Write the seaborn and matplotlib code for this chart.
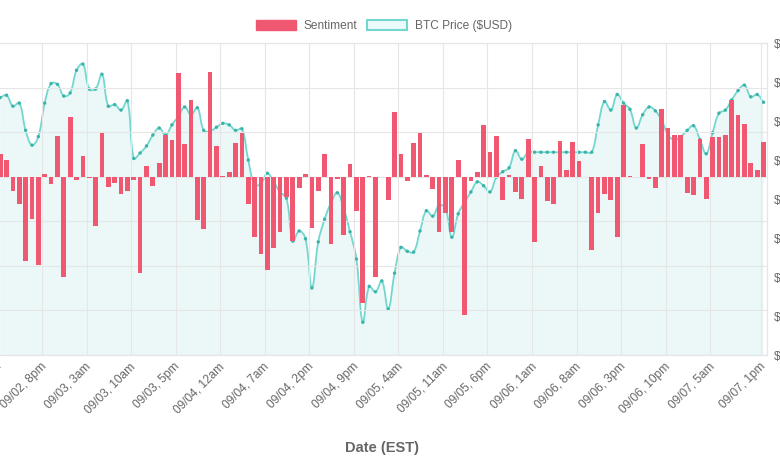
import numpy as np
import pandas as pd
import matplotlib
matplotlib.use("Agg")
import matplotlib.pyplot as plt
import seaborn as sns
from matplotlib.path import Path
from matplotlib.patches import PathPatch, Patch

# hourly data, hour 0 = 09/02 1pm EST
hours = list(range(121))

sentiment = [
    0.052, 0.038, -0.033, -0.061, -0.188, -0.095, -0.198, 0.007, -0.016, 0.092,
    -0.224, 0.135, -0.008, 0.046, -0.003, -0.110, 0.097, -0.022, -0.014, -0.038,
    -0.031, -0.008, -0.215, 0.023, -0.020, 0.031, 0.094, 0.082, 0.233, 0.073,
    0.173, -0.097, -0.118, 0.234, 0.070, 0.001, 0.011, 0.076, 0.097, -0.061,
    -0.136, -0.174, -0.210, -0.159, -0.125, -0.046, -0.144, -0.026, 0.007, -0.114,
    -0.031, 0.052, -0.151, -0.005, -0.130, 0.029, -0.076, -0.284, 0.001, -0.224,
    0.000, -0.053, 0.145, 0.052, -0.010, 0.076, 0.097, 0.004, -0.028, -0.123,
    -0.082, -0.125, 0.037, -0.311, -0.010, 0.011, 0.115, 0.056, 0.091, -0.053,
    0.004, -0.035, -0.051, 0.085, -0.147, 0.023, -0.055, -0.061, 0.081, 0.014,
    0.079, 0.036, 0.000, -0.164, -0.082, -0.038, -0.053, -0.136, 0.161, 0.002,
    0.000, 0.074, -0.005, -0.026, 0.153, 0.110, 0.094, 0.093, -0.037, -0.040,
    0.084, -0.051, 0.088, 0.088, 0.094, 0.172, 0.139, 0.119, 0.031, 0.016,
    0.079,
]

btc_price = [
    10530, 10533, 10519, 10523, 10488, 10469, 10480, 10523, 10548, 10547,
    10532, 10536, 10565, 10573, 10541, 10541, 10560, 10519, 10521, 10514,
    10526, 10452, 10459, 10468, 10482, 10491, 10482, 10495, 10506, 10518,
    10508, 10517, 10488, 10487, 10492, 10497, 10495, 10488, 10490, 10450,
    10418, 10420, 10433, 10422, 10409, 10401, 10346, 10359, 10349, 10286,
    10345, 10374, 10395, 10408, 10388, 10358, 10323, 10242, 10288, 10281,
    10295, 10259, 10305, 10338, 10333, 10332, 10359, 10385, 10378, 10392,
    10388, 10351, 10381, 10396, 10409, 10422, 10417, 10409, 10428, 10435,
    10440, 10462, 10451, 10460, 10460, 10460, 10460, 10460, 10460, 10460,
    10460, 10460, 10460, 10460, 10495, 10525, 10514, 10534, 10523, 10515,
    10491, 10508, 10518, 10513, 10501, 10482, 10476, 10480, 10488, 10494,
    10476, 10458, 10485, 10510, 10514, 10527, 10539, 10546, 10531, 10534,
    10524,
]

tick_hours = [0, 7, 14, 21, 28, 35, 42, 49, 56, 63, 70, 77, 84, 91, 98, 105, 112, 120]
tick_labels = ["09/02, 1pm", "09/02, 8pm", "09/03, 3am", "09/03, 10am", "09/03, 5pm",
               "09/04, 12am", "09/04, 7am", "09/04, 2pm", "09/04, 9pm", "09/05, 4am",
               "09/05, 11am", "09/05, 6pm", "09/06, 1am", "09/06, 8am", "09/06, 3pm",
               "09/06, 10pm", "09/07, 5am", "09/07, 1pm"]
price_ticks = [10200, 10250, 10300, 10350, 10400, 10450, 10500, 10550, 10600]

BAR = "#f05872"
LINE = "#74d7cf"
DOT = "#3ab4aa"
FILL = (75 / 255, 192 / 255, 192 / 255, 0.1)
GRID = "#e6e6e6"
TXT = "#666666"


def chartjs_curve(ax, xs, ys, tension=0.4):
    # bezier control points the way Chart.js builds them (in pixel space)
    pts = ax.transData.transform(np.column_stack([xs, ys]))
    n = len(pts)
    cprev = np.zeros_like(pts)
    cnext = np.zeros_like(pts)
    for k in range(n):
        prev = pts[k - 1] if k > 0 else pts[k]
        nxt = pts[k + 1] if k < n - 1 else pts[k]
        d01 = np.hypot(*(pts[k] - prev))
        d12 = np.hypot(*(nxt - pts[k]))
        tot = d01 + d12
        s01 = d01 / tot if tot else 0
        s12 = d12 / tot if tot else 0
        cprev[k] = pts[k] - tension * s01 * (nxt - prev)
        cnext[k] = pts[k] + tension * s12 * (nxt - prev)
    verts = [pts[0]]
    codes = [Path.MOVETO]
    for k in range(n - 1):
        verts += [cnext[k], cprev[k + 1], pts[k + 1]]
        codes += [Path.CURVE4] * 3
    return ax.transData.inverted().transform(np.array(verts)), codes


sns.set_theme(style="white")
plt.rcParams["font.family"] = ["Liberation Sans", "DejaVu Sans"]

df = pd.DataFrame({"hour": hours, "sentiment": sentiment, "price": btc_price})

W, H = 780, 470
fig = plt.figure(figsize=(7.8, 4.7), dpi=100)
ax_s = fig.add_axes([-3 / W, (H - 355) / H, 769.7 / W, 312 / H])
ax_p = ax_s.twinx()
ax_s.set_zorder(2)
ax_p.set_zorder(1)
ax_s.patch.set_visible(False)

# sentiment bars (one category per hour, so bar k sits at x = k)
sns.barplot(data=df, x="hour", y="sentiment", ax=ax_s, color=BAR, saturation=1,
            width=0.74, errorbar=None, edgecolor="none", linewidth=0)
ax_s.set_xlim(-0.5, 120.5)
ax_s.set_ylim(-0.4, 0.3)
ax_s.set_yticks(np.arange(-0.4, 0.31, 0.1))
ax_s.tick_params(axis="y", left=False, labelleft=False, right=False)
ax_s.set_xticks(tick_hours)
ax_s.set_xticklabels(tick_labels, rotation=45, ha="right", va="center",
                     rotation_mode="anchor", fontsize=8.6, color=TXT)
ax_s.set_xticks([h - 0.4 for h in tick_hours], minor=True)
ax_s.tick_params(axis="x", which="both", length=0, pad=7)
ax_s.grid(False)
ax_s.grid(True, axis="y", color=GRID, lw=0.8)
ax_s.grid(True, axis="x", which="minor", color=GRID, lw=0.8)
ax_s.set_axisbelow(True)
ax_s.set_xlabel("")
ax_s.set_ylabel("")

# btc price line
ax_p.set_ylim(price_ticks[0], price_ticks[-1])
ax_p.set_yticks(price_ticks)
ax_p.set_yticklabels([f"${v:,}" for v in price_ticks], fontsize=8.6, color=TXT)
ax_p.tick_params(axis="y", length=0, pad=5.3)
ax_p.grid(False)

verts, codes = chartjs_curve(ax_p, df["hour"].values, df["price"].values)
fill_verts = np.vstack([verts, [[hours[-1], price_ticks[0]], [hours[0], price_ticks[0]], verts[0]]])
fill_codes = codes + [Path.LINETO, Path.LINETO, Path.CLOSEPOLY]
ax_p.add_patch(PathPatch(Path(fill_verts, fill_codes), facecolor=FILL, edgecolor="none", zorder=1))
ax_p.add_patch(PathPatch(Path(verts, codes), facecolor="none", edgecolor=LINE, lw=1.3, zorder=2))
sns.scatterplot(data=df, x="hour", y="price", ax=ax_p, s=6, color=DOT, edgecolor="none",
                legend=False, zorder=3)
ax_p.set_xlabel("")
ax_p.set_ylabel("")

for ax in (ax_s, ax_p):
    for side, sp in ax.spines.items():
        sp.set_color(GRID)
        sp.set_linewidth(0.8)
    ax.spines["left"].set_visible(False)

fig.text(382 / W, 1 - 448 / H, "Date (EST)", ha="center", va="center",
         fontsize=10.5, fontweight="bold", color=TXT)

handles = [Patch(facecolor=BAR, edgecolor=BAR),
           Patch(facecolor=(0.92, 0.98, 0.98), edgecolor=LINE, lw=1.5)]
fig.legend(handles, ["Sentiment", "BTC Price ($USD)"], loc="center",
           bbox_to_anchor=(384 / W, 1 - 26 / H), ncol=2, frameon=False,
           fontsize=8.6, labelcolor=TXT, handlelength=3.35, handleheight=1.0,
           handletextpad=0.6, columnspacing=0.84, borderaxespad=0)

fig.savefig("out.png", dpi=100)
